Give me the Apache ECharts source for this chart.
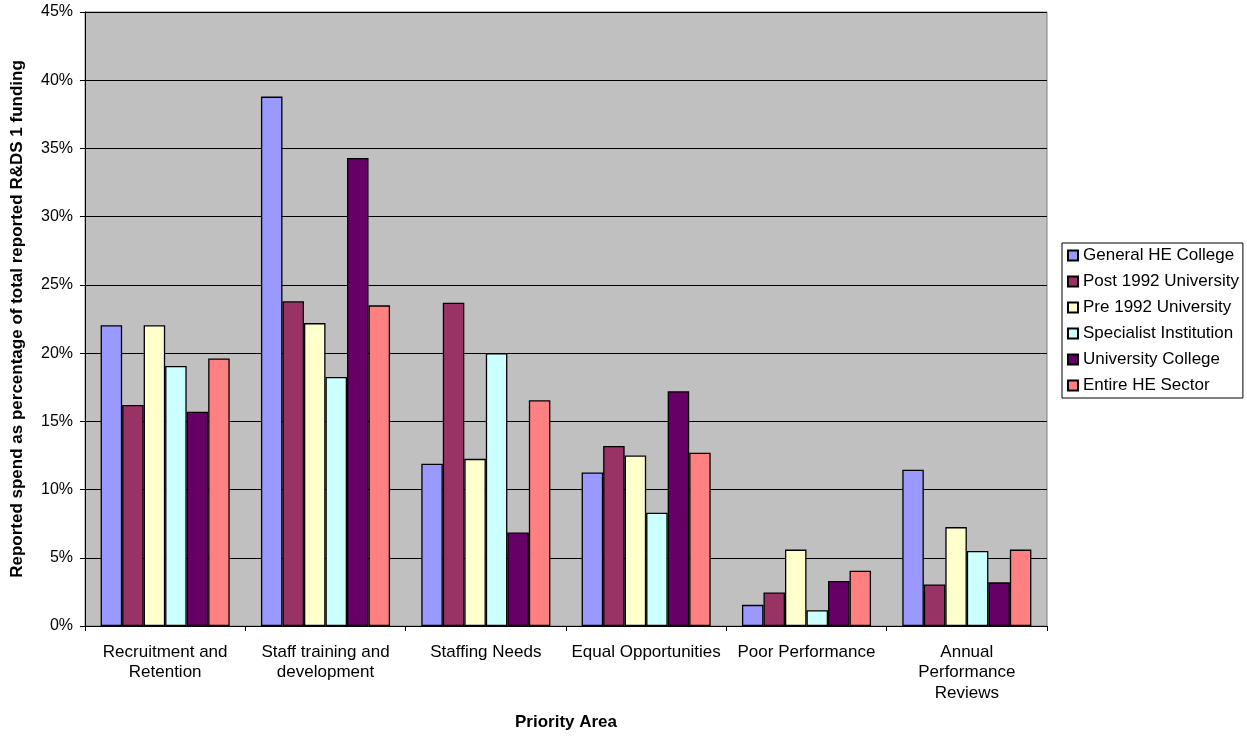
<!DOCTYPE html>
<html>
<head>
<meta charset="utf-8">
<script src="https://cdn.jsdelivr.net/npm/echarts@6/dist/echarts.min.js"></script>
<style>
  html, body { margin: 0; padding: 0; background: #fff; }
  #chart { width: 1247px; height: 736px; }
</style>
</head>
<body>
<div id="chart"></div>
<script>
// Priority areas (label line breaks included)
var categories = [
  'Recruitment and\nRetention',
  'Staff training and\ndevelopment',
  'Staffing Needs',
  'Equal Opportunities',
  'Poor Performance',
  'Annual\nPerformance\nReviews'
];

// Share of reported R&DS 1 funding (%) by institution type
var generalHECollege     = [22.05, 38.8, 11.9, 11.25, 1.55, 11.45];
var post1992University   = [16.2, 23.8, 23.7, 13.2, 2.45, 3.05];
var pre1992University    = [22.05, 22.2, 12.25, 12.5, 5.6, 7.25];
var specialistInstitution= [19.05, 18.25, 20.0, 8.3, 1.15, 5.5];
var universityCollege    = [15.7, 34.3, 6.85, 17.2, 3.3, 3.2];
var entireHESector       = [19.6, 23.5, 16.55, 12.7, 4.05, 5.6];

var seriesNames = [
  'General HE College',
  'Post 1992 University',
  'Pre 1992 University',
  'Specialist Institution',
  'University College',
  'Entire HE Sector'
];
var seriesData = [
  generalHECollege, post1992University, pre1992University,
  specialistInstitution, universityCollege, entireHESector
];
var seriesColors = ['#9999FF', '#993366', '#FFFFCC', '#CCFFFF', '#660066', '#FF8080'];

var yTicks = [0, 5, 10, 15, 20, 25, 30, 35, 40, 45];

var FONT = 'Liberation Sans, Arial, sans-serif';

var chart = echarts.init(document.getElementById('chart'), null, { renderer: 'canvas' });

var series = seriesNames.map(function (name, i) {
  return {
    name: name,
    type: 'bar',
    data: seriesData[i],
    barGap: '0%',
    barCategoryGap: '19.5%',
    itemStyle: { color: seriesColors[i], borderColor: '#000', borderWidth: 1.3 },
    emphasis: { disabled: true }
  };
});

chart.setOption({
  animation: false,
  backgroundColor: '#ffffff',
  grid: {
    left: 85, right: 200, top: 12, bottom: 108,
    show: true, backgroundColor: '#C0C0C0', borderColor: '#808080', borderWidth: 1
  },
  legend: {
    orient: 'vertical',
    left: 1062, top: 243,
    padding: [3, 4, 3, 5],
    itemWidth: 10, itemHeight: 10, itemGap: 7,
    icon: 'rect',
    borderColor: '#000', borderWidth: 1,
    backgroundColor: '#fff',
    textStyle: { fontFamily: FONT, fontSize: 17, color: '#000', lineHeight: 19 },
    data: seriesNames
  },
  xAxis: {
    type: 'category',
    data: categories,
    name: 'Priority Area',
    nameLocation: 'middle',
    nameGap: 88,
    nameTextStyle: { fontFamily: FONT, fontSize: 17, fontWeight: 'bold', color: '#000' },
    axisLine: { lineStyle: { color: '#000', width: 1 } },
    axisTick: { show: true, length: 5, inside: false, lineStyle: { color: '#000' } },
    axisLabel: { fontFamily: FONT, fontSize: 17, color: '#000', lineHeight: 20.5, margin: 16, interval: 0 },
    splitLine: { show: false }
  },
  yAxis: {
    type: 'value',
    min: 0, max: 45, interval: 5,
    name: 'Reported spend as percentage of total reported R&DS 1 funding',
    nameLocation: 'middle',
    nameGap: 59,
    nameTextStyle: { fontFamily: FONT, fontSize: 17, fontWeight: 'bold', color: '#000' },
    axisLine: { show: true, lineStyle: { color: '#000', width: 1 } },
    axisTick: { show: true, length: 5, lineStyle: { color: '#000' } },
    axisLabel: {
      fontFamily: FONT, fontSize: 16, color: '#000', margin: 12,
      formatter: function (v) { return yTicks.indexOf(v) >= 0 ? v + '%' : ''; }
    },
    splitLine: { show: true, lineStyle: { color: '#000', width: 1 } }
  },
  series: series
});
</script>
</body>
</html>
